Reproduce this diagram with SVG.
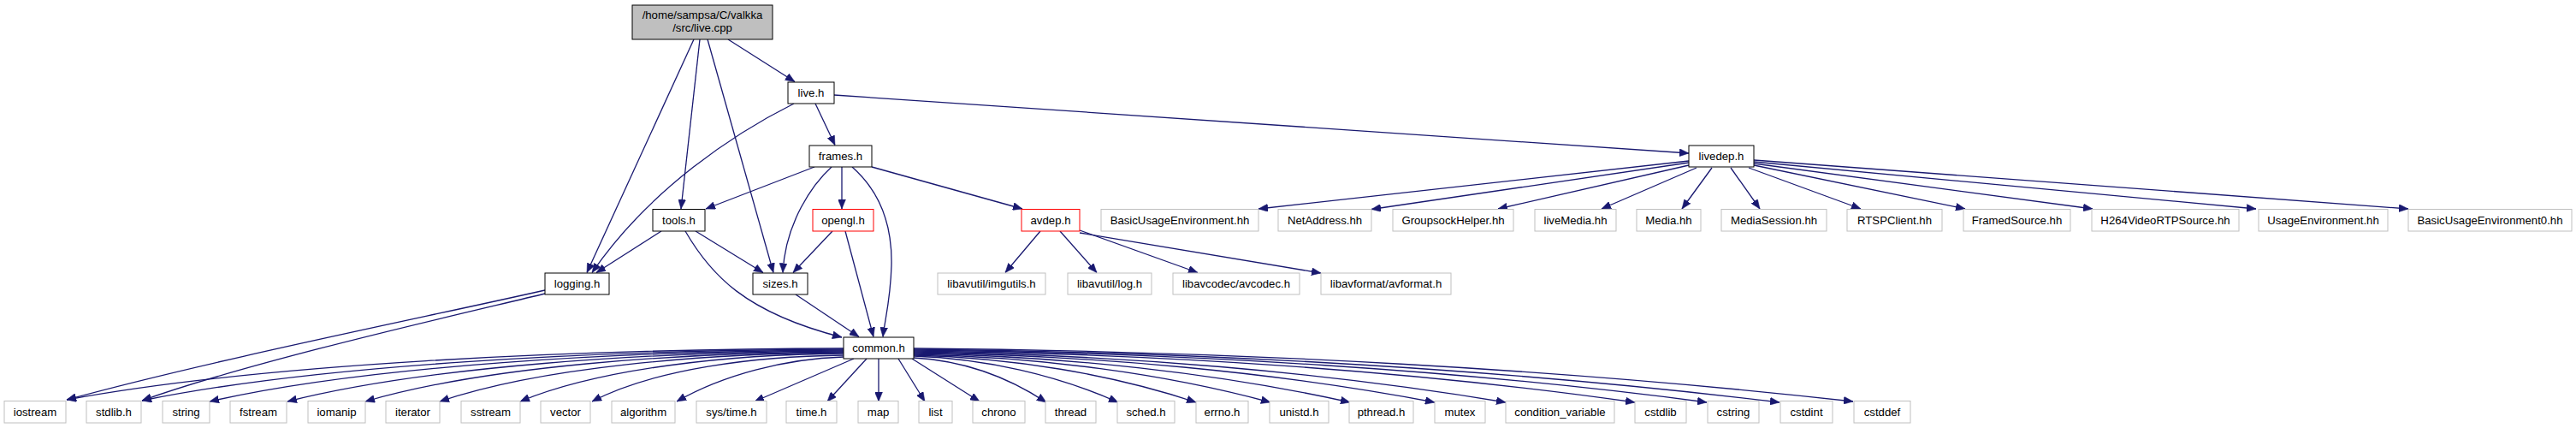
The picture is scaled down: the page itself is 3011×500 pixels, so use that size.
<svg xmlns="http://www.w3.org/2000/svg" width="3011" height="500" viewBox="0 0 3011 500">
<style>
rect{fill:#fff;stroke:#000;stroke-width:1}
.root rect{fill:#bfbfbf}
.red rect{stroke:#ff0000}
.ext rect{stroke:#bfbfbf}
text{font-family:"Liberation Sans",Arial,Helvetica,sans-serif;font-size:13.2px;text-anchor:middle;fill:#000}
#edges path{fill:none;stroke:#191970;stroke-width:1.3;marker-end:url(#arr)}
</style>
<defs>
<marker id="arr" markerUnits="userSpaceOnUse" markerWidth="11" markerHeight="9" refX="11" refY="4.5" orient="auto">
<path d="M0,0 L11,4.5 L0,9 z" fill="#191970" stroke="#191970" stroke-width="0.5"/>
</marker>
</defs>
<rect x="0" y="0" width="3011" height="500" style="fill:#fff;stroke:none"/>

<g id="edges">
<path d="M851,46 L929,95.5"/>
<path d="M811,46 L686,318.5"/>
<path d="M818,46 L796,244"/>
<path d="M827,46 L904,318.5"/>
<path d="M953,121 L976,169.5"/>
<path d="M928,121 C860,155 760,220 692,318.5"/>
<path d="M975,111 L1974,179"/>
<path d="M952,195 L825,244"/>
<path d="M984,195 L984,244"/>
<path d="M972,195 C950,215 918,260 915,318.5"/>
<path d="M996,195 C1030,225 1043,265 1042,310 C1041,350 1034,375 1032,393.5"/>
<path d="M1019,195 L1195,244"/>
<path d="M773,270 L697,318.5"/>
<path d="M813,270 L892,318.5"/>
<path d="M801,270 C830,320 870,365 984,394"/>
<path d="M973,270 L927,318.5"/>
<path d="M988,270 L1021,393.5"/>
<path d="M930,344 L1004,393.5"/>
<path d="M637,339 C500,370 250,420 78,467"/>
<path d="M637,343 C560,362 300,420 166,468"/>
<path d="M986,407 C668,408 305,425 78,467"/>
<path d="M986,408 C699,409 371,426 166,468"/>
<path d="M986,409 C727,410 430,427 245,469"/>
<path d="M986,410 C758,411 498,428 336,469"/>
<path d="M986,411 C790,412 567,428 427,469"/>
<path d="M986,412 C821,413 632,429 514,469"/>
<path d="M986,413 C854,414 702,430 608,469"/>
<path d="M986,415 C883,416 765,431 692,469"/>
<path d="M986,417 C918,419 845,438 791,469"/>
<path d="M998,419 L882,469"/>
<path d="M1013,419 L967,469"/>
<path d="M1027,419 L1027,469"/>
<path d="M1050,419 L1081,469"/>
<path d="M1066,419 L1145,469"/>
<path d="M1068,418 C1122,421 1176,439 1223,470"/>
<path d="M1068,416 C1152,419 1235,438 1307,470"/>
<path d="M1068,415 C1184,418 1299,437 1398,470"/>
<path d="M1068,414 C1214,417 1360,436 1485,470"/>
<path d="M1068,413 C1246,416 1425,436 1578,470"/>
<path d="M1068,412 C1281,415 1494,435 1677,470"/>
<path d="M1068,411 C1310,414 1552,435 1760,470"/>
<path d="M1068,410 C1363,413 1658,434 1911,470"/>
<path d="M1068,409 C1392,412 1717,433 1995,470"/>
<path d="M1068,408 C1422,411 1776,433 2080,470"/>
<path d="M1068,407 C1452,410 1837,432 2166,469"/>
<path d="M1216,270 L1175,318.5"/>
<path d="M1239,270 L1282,318.5"/>
<path d="M1262,269 L1400,318.5"/>
<path d="M1262,272 L1544,319"/>
<path d="M1974,188 L1471,244"/>
<path d="M1974,190 L1603,244.5"/>
<path d="M1974,193 L1751,244"/>
<path d="M1983,196 L1872,244"/>
<path d="M2001,196 L1966,244"/>
<path d="M2023,196 L2057,244"/>
<path d="M2044,196 L2175,244"/>
<path d="M2050,193 L2297,244"/>
<path d="M2050,191 L2446,244"/>
<path d="M2050,189 L2637,244"/>
<path d="M2050,187 L2815,244"/>
</g>

<g id="n_live_cpp" class="root"><rect x="739" y="6" width="164" height="40"/><text x="821" y="21.5">/home/sampsa/C/valkka</text><text x="821" y="36.5">/src/live.cpp</text></g>
<g id="n_live_h"><rect x="921" y="96" width="54" height="25"/><text x="948" y="113">live.h</text></g>
<g id="n_frames_h"><rect x="946" y="170" width="73" height="25"/><text x="982.5" y="187">frames.h</text></g>
<g id="n_livedep_h"><rect x="1974" y="170" width="76" height="25"/><text x="2012" y="187">livedep.h</text></g>
<g id="n_tools_h"><rect x="763" y="244.5" width="61" height="25.5"/><text x="793.5" y="262">tools.h</text></g>
<g id="n_opengl_h" class="red"><rect x="950" y="244.5" width="71" height="25.5"/><text x="985.5" y="262">opengl.h</text></g>
<g id="n_avdep_h" class="red"><rect x="1194" y="244.5" width="68" height="25.5"/><text x="1228" y="262">avdep.h</text></g>
<g id="n_BasicUsageEnvironment_hh" class="ext"><rect x="1287" y="244.5" width="184" height="25.5"/><text x="1379" y="262">BasicUsageEnvironment.hh</text></g>
<g id="n_NetAddress_hh" class="ext"><rect x="1494" y="244.5" width="109" height="25.5"/><text x="1548.5" y="262">NetAddress.hh</text></g>
<g id="n_GroupsockHelper_hh" class="ext"><rect x="1628" y="244.5" width="141" height="25.5"/><text x="1698.5" y="262">GroupsockHelper.hh</text></g>
<g id="n_liveMedia_hh" class="ext"><rect x="1794" y="244.5" width="95" height="25.5"/><text x="1841.5" y="262">liveMedia.hh</text></g>
<g id="n_Media_hh" class="ext"><rect x="1913" y="244.5" width="75" height="25.5"/><text x="1950.5" y="262">Media.hh</text></g>
<g id="n_MediaSession_hh" class="ext"><rect x="2012" y="244.5" width="123" height="25.5"/><text x="2073.5" y="262">MediaSession.hh</text></g>
<g id="n_RTSPClient_hh" class="ext"><rect x="2159" y="244.5" width="111" height="25.5"/><text x="2214.5" y="262">RTSPClient.hh</text></g>
<g id="n_FramedSource_hh" class="ext"><rect x="2295" y="244.5" width="125" height="25.5"/><text x="2357.5" y="262">FramedSource.hh</text></g>
<g id="n_H264VideoRTPSource_hh" class="ext"><rect x="2445" y="244.5" width="172" height="25.5"/><text x="2531" y="262">H264VideoRTPSource.hh</text></g>
<g id="n_UsageEnvironment_hh" class="ext"><rect x="2640" y="244.5" width="151" height="25.5"/><text x="2715.5" y="262">UsageEnvironment.hh</text></g>
<g id="n_BasicUsageEnvironment0_hh" class="ext"><rect x="2815" y="244.5" width="191" height="25.5"/><text x="2910.5" y="262">BasicUsageEnvironment0.hh</text></g>
<g id="n_logging_h"><rect x="637" y="319" width="75" height="25"/><text x="674.5" y="336">logging.h</text></g>
<g id="n_sizes_h"><rect x="880" y="319" width="64" height="25"/><text x="912" y="336">sizes.h</text></g>
<g id="n_imgutils_h" class="ext"><rect x="1096" y="319" width="126" height="25"/><text x="1159" y="336">libavutil/imgutils.h</text></g>
<g id="n_log_h" class="ext"><rect x="1248" y="319" width="98" height="25"/><text x="1297" y="336">libavutil/log.h</text></g>
<g id="n_avcodec_h" class="ext"><rect x="1371" y="319" width="148" height="25"/><text x="1445" y="336">libavcodec/avcodec.h</text></g>
<g id="n_avformat_h" class="ext"><rect x="1544" y="319" width="152" height="25"/><text x="1620" y="336">libavformat/avformat.h</text></g>
<g id="n_common_h"><rect x="986" y="394" width="82" height="25"/><text x="1027" y="411">common.h</text></g>
<g id="n_iostream" class="ext"><rect x="5" y="468.5" width="72" height="25.5"/><text x="41" y="486">iostream</text></g>
<g id="n_stdlib_h" class="ext"><rect x="101" y="468.5" width="64" height="25.5"/><text x="133" y="486">stdlib.h</text></g>
<g id="n_string" class="ext"><rect x="190" y="468.5" width="55" height="25.5"/><text x="217.5" y="486">string</text></g>
<g id="n_fstream" class="ext"><rect x="269" y="468.5" width="66" height="25.5"/><text x="302" y="486">fstream</text></g>
<g id="n_iomanip" class="ext"><rect x="360" y="468.5" width="67" height="25.5"/><text x="393.5" y="486">iomanip</text></g>
<g id="n_iterator" class="ext"><rect x="451" y="468.5" width="63" height="25.5"/><text x="482.5" y="486">iterator</text></g>
<g id="n_sstream" class="ext"><rect x="539" y="468.5" width="69" height="25.5"/><text x="573.5" y="486">sstream</text></g>
<g id="n_vector" class="ext"><rect x="632" y="468.5" width="58" height="25.5"/><text x="661" y="486">vector</text></g>
<g id="n_algorithm" class="ext"><rect x="715" y="468.5" width="74" height="25.5"/><text x="752" y="486">algorithm</text></g>
<g id="n_sys_time_h" class="ext"><rect x="814" y="468.5" width="82" height="25.5"/><text x="855" y="486">sys/time.h</text></g>
<g id="n_time_h" class="ext"><rect x="919" y="468.5" width="59" height="25.5"/><text x="948.5" y="486">time.h</text></g>
<g id="n_map" class="ext"><rect x="1003" y="468.5" width="47" height="25.5"/><text x="1026.5" y="486">map</text></g>
<g id="n_list" class="ext"><rect x="1074" y="468.5" width="39" height="25.5"/><text x="1093.5" y="486">list</text></g>
<g id="n_chrono" class="ext"><rect x="1137" y="468.5" width="61" height="25.5"/><text x="1167.5" y="486">chrono</text></g>
<g id="n_thread" class="ext"><rect x="1222" y="468.5" width="59" height="25.5"/><text x="1251.5" y="486">thread</text></g>
<g id="n_sched_h" class="ext"><rect x="1306" y="468.5" width="67" height="25.5"/><text x="1339.5" y="486">sched.h</text></g>
<g id="n_errno_h" class="ext"><rect x="1398" y="468.5" width="61" height="25.5"/><text x="1428.5" y="486">errno.h</text></g>
<g id="n_unistd_h" class="ext"><rect x="1484" y="468.5" width="69" height="25.5"/><text x="1518.5" y="486">unistd.h</text></g>
<g id="n_pthread_h" class="ext"><rect x="1577" y="468.5" width="75" height="25.5"/><text x="1614.5" y="486">pthread.h</text></g>
<g id="n_mutex" class="ext"><rect x="1677" y="468.5" width="59" height="25.5"/><text x="1706.5" y="486">mutex</text></g>
<g id="n_condition_variable" class="ext"><rect x="1760" y="468.5" width="127" height="25.5"/><text x="1823.5" y="486">condition_variable</text></g>
<g id="n_cstdlib" class="ext"><rect x="1911" y="468.5" width="60" height="25.5"/><text x="1941" y="486">cstdlib</text></g>
<g id="n_cstring" class="ext"><rect x="1996" y="468.5" width="60" height="25.5"/><text x="2026" y="486">cstring</text></g>
<g id="n_cstdint" class="ext"><rect x="2081" y="468.5" width="61" height="25.5"/><text x="2111.5" y="486">cstdint</text></g>
<g id="n_cstddef" class="ext"><rect x="2167" y="468.5" width="66" height="25.5"/><text x="2200" y="486">cstddef</text></g>
</svg>
